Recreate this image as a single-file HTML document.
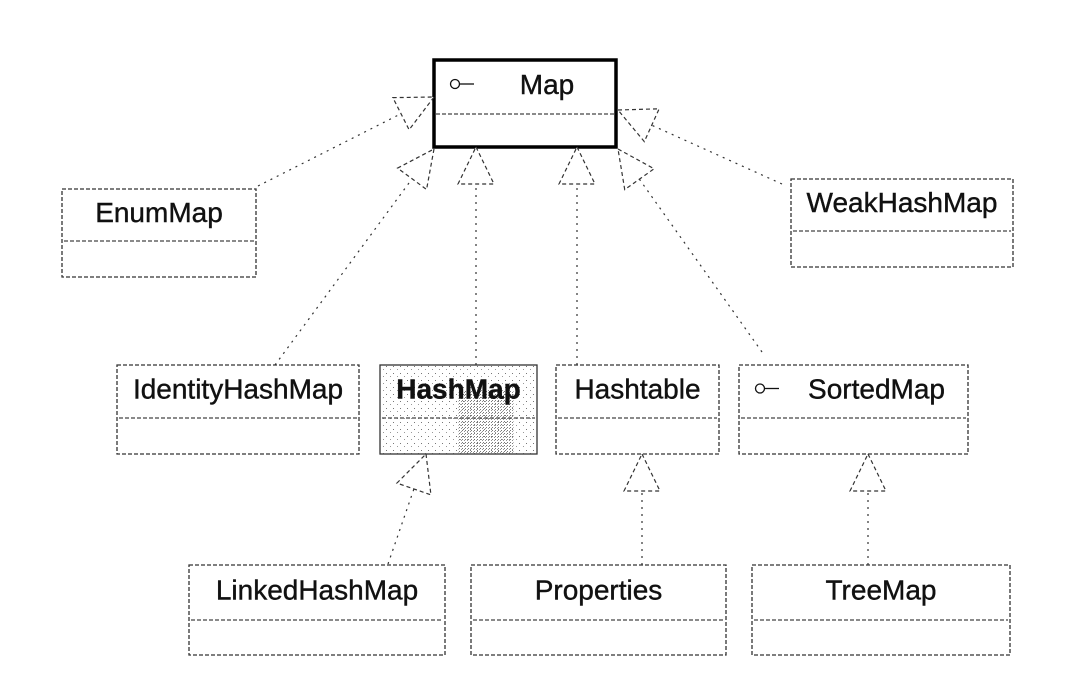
<!DOCTYPE html>
<html><head><meta charset="utf-8">
<style>
html,body{margin:0;padding:0;background:#fff;}
svg{display:block;}
text{font-family:"Liberation Sans",Arial,sans-serif;font-size:28px;fill:#111;stroke:#111;stroke-width:0.4;}
</style></head>
<body>
<svg id="s" width="1074" height="676" viewBox="0 0 1074 676" xmlns="http://www.w3.org/2000/svg">
<defs>
<pattern id="dots" width="7" height="7" patternUnits="userSpaceOnUse">
<rect x="1" y="2" width="1" height="1" fill="#777"/>
<rect x="5" y="5" width="1" height="1" fill="#999"/>
</pattern>
<pattern id="dots2" width="3" height="3" patternUnits="userSpaceOnUse">
<rect x="0" y="1" width="1" height="1" fill="#555"/>
<rect x="2" y="2" width="1" height="1" fill="#777"/>
</pattern>
</defs>
<g id="boxes" fill="none" stroke="#333" stroke-width="1.3" stroke-dasharray="4 2">
</g>
<g id="conn" fill="none" stroke="#333" stroke-width="1.2"></g>
<g id="labels"></g>
</svg>
<script>
const NS="http://www.w3.org/2000/svg";
const B=document.getElementById('boxes'),C=document.getElementById('conn'),L=document.getElementById('labels');
function el(p,tag,a){const e=document.createElementNS(NS,tag);for(const k in a)e.setAttribute(k,a[k]);p.appendChild(e);return e;}
const boxes=[
 ["Map",434,60,616,147,114,true],
 ["EnumMap",62,189,256,277,241],
 ["WeakHashMap",791,179,1013,267,231],
 ["IdentityHashMap",117,365,359,454,418],
 ["HashMap",380,365,537,454,418],
 ["Hashtable",556,365,719,454,418],
 ["SortedMap",739,365,968,454,418,true],
 ["LinkedHashMap",189,565,445,655,620],
 ["Properties",471,565,726,655,620],
 ["TreeMap",752,565,1010,655,620]
];
boxes.forEach(b=>{
 const [n,x1,y1,x2,y2,d,iface]=b;
 if(n=="HashMap"){
  el(B,'rect',{x:x1,y:y1,width:x2-x1,height:y2-y1,fill:'url(#dots)',stroke:'none'});
  el(B,'rect',{x:x1+(x2-x1)*0.5,y:y1+25,width:(x2-x1)*0.35,height:y2-y1-25,fill:'url(#dots2)',stroke:'none',opacity:0.8});
 }
 const solid=(n=="Map");
 el(B,'rect',{x:x1,y:y1,width:x2-x1,height:y2-y1,stroke:solid?'#000':'#333','stroke-width':solid?3.5:1.3,'stroke-dasharray':solid||n=="HashMap"?'none':'4 2'});
 el(B,'line',{x1:x1+2,y1:d,x2:x2-2,y2:d,'stroke-dasharray':'4 2',stroke:'#444'});
 const cy=(y1+d)/2+7;
 let cx=(x1+x2)/2;
 if(iface){
  el(L,'circle',{cx:x1+21,cy:cy-10,r:4.5,fill:'none',stroke:'#111','stroke-width':1.3});
  el(L,'line',{x1:x1+25.5,y1:cy-10,x2:x1+40,y2:cy-10,stroke:'#111','stroke-width':1.3});
  cx=(x1+x2)/2+(n=="Map"?22:23);
 }
 const t=el(L,'text',{x:cx,y:cy,'text-anchor':'middle'});t.textContent=n;
 if(n=="HashMap")t.setAttribute('style','font-weight:bold');
});
const conns=[
 [258,186,434,97],
 [275,365,434,149],
 [476,365,476,147],
 [577,365,577,147],
 [762,352,618,149],
 [782,184,618,110],
 [388,564,426,454],
 [642,565,642,454],
 [868,565,868,454]
];
conns.forEach(c=>{
 const [tx,ty,hx,hy]=c;
 const dx=hx-tx,dy=hy-ty,len=Math.hypot(dx,dy),ux=dx/len,uy=dy/len;
 const h=37,w=18;
 const bx=hx-ux*h,by=hy-uy*h;
 const px=-uy,py=ux;
 el(C,'line',{x1:tx,y1:ty,x2:bx,y2:by,'stroke-dasharray':'2 5'});
 el(C,'polygon',{points:`${hx},${hy} ${bx+px*w},${by+py*w} ${bx-px*w},${by-py*w}`,'stroke-dasharray':'4 3',fill:'#fff'});
});
</script>
</body></html>
